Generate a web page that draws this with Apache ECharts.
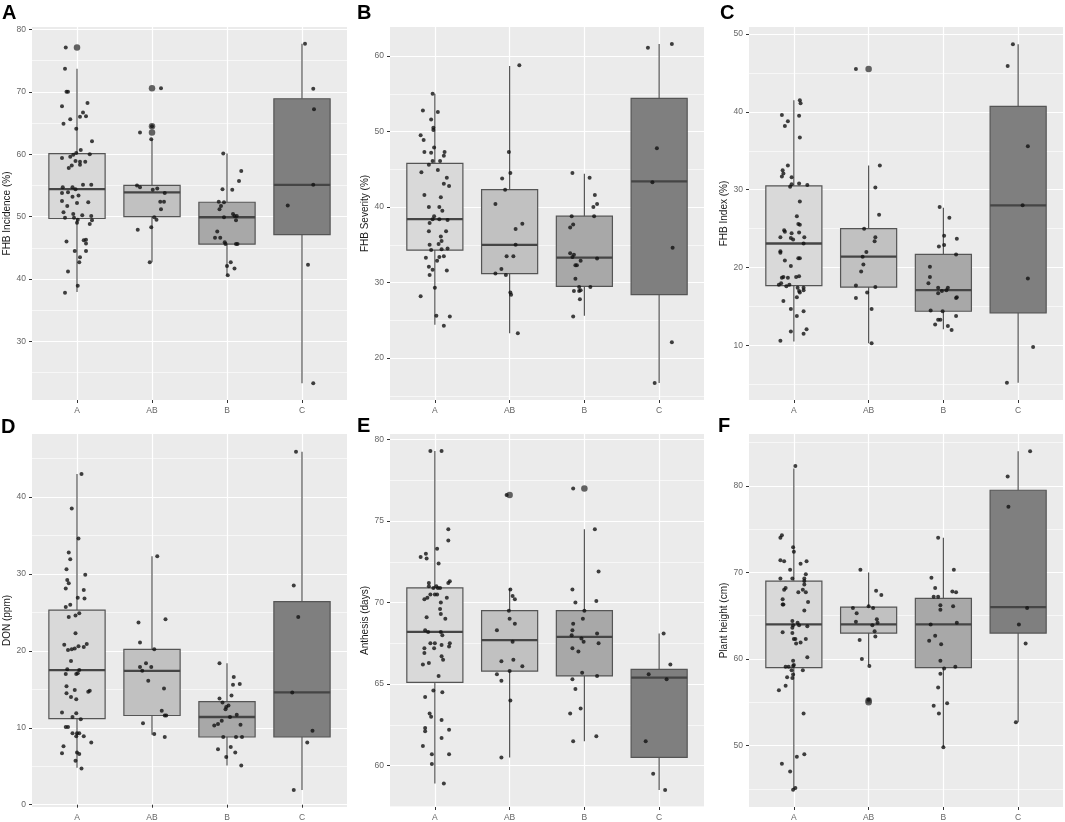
<!DOCTYPE html>
<html>
<head>
<meta charset="utf-8">
<script src="https://cdn.jsdelivr.net/npm/echarts@6/dist/echarts.min.js"></script>
<style>
  html, body { margin: 0; padding: 0; background: #fff; }
  #main { width: 1065px; height: 822px; }
</style>
</head>
<body>
<div id="main"></div>
<script>
// groups on every panel
const cats = ['A', 'AB', 'B', 'C']
const boxFill = ['#d9d9d9', '#c1c1c1', '#a8a8a8', '#7f7f7f']

// box stats per group: [lower whisker, Q1, median, Q3, upper whisker]
// outliers: [group (1-4), value]; points: per group [jitter, value]

// A - FHB incidence
const incBox = [[37.9, 49.7, 54.4, 60.1, 73.7], [42.7, 50.0, 53.9, 55.0, 62.4], [40.5, 45.6, 49.9, 52.3, 60.1], [23.3, 47.1, 55.1, 68.9, 77.7]]
const incOut = [[1, 77.1], [2, 70.6], [2, 64.5], [2, 63.5]]
const incPts = [
  [[-0.15, 77.1], [-0.16, 73.7], [-0.14, 70.0], [-0.12, 70.0], [-0.2, 67.7], [0.14, 68.2], [-0.18, 64.9], [-0.09, 65.6], [-0.01, 64.1], [0.04, 66.0], [0.08, 66.7], [0.12, 66.1], [0.2, 62.1], [0.05, 60.7], [-0.01, 60.2], [-0.05, 59.9], [-0.2, 59.4], [-0.09, 59.6], [-0.02, 58.9], [0.04, 58.8], [0.11, 58.8], [0.17, 60.0], [-0.07, 58.2], [-0.11, 57.8], [0.04, 58.3], [0.08, 55.1], [0.19, 55.1], [-0.19, 54.7], [-0.06, 54.7], [-0.02, 54.4], [-0.2, 53.8], [-0.12, 53.9], [0.02, 53.4], [-0.06, 53.2], [-0.2, 52.5], [0.0, 52.2], [0.15, 52.3], [-0.13, 51.7], [-0.18, 50.7], [-0.05, 50.4], [0.07, 50.2], [-0.16, 49.8], [-0.04, 49.8], [0.01, 49.5], [0.19, 50.1], [0.2, 49.4], [0.17, 48.8], [0.0, 49.0], [-0.14, 46.0], [0.09, 46.2], [0.12, 46.3], [0.12, 45.7], [-0.03, 44.5], [0.12, 44.5], [0.04, 43.5], [0.03, 42.7], [-0.12, 41.2], [0.01, 38.9], [-0.16, 37.8]],
  [[0.12, 70.6], [0.0, 64.5], [-0.16, 63.5], [-0.01, 62.4], [-0.2, 55.0], [-0.16, 54.7], [0.01, 54.3], [0.07, 54.5], [0.17, 53.8], [0.11, 52.4], [0.16, 52.4], [0.12, 51.2], [0.03, 49.9], [0.06, 49.5], [-0.01, 48.3], [-0.19, 47.9], [-0.03, 42.7]],
  [[-0.05, 60.1], [0.19, 57.3], [0.16, 55.7], [-0.06, 54.4], [0.07, 54.3], [-0.11, 52.4], [-0.04, 52.3], [-0.08, 51.7], [-0.1, 51.2], [-0.04, 49.9], [0.08, 50.4], [0.1, 50.1], [0.13, 50.1], [0.12, 49.4], [-0.13, 47.6], [-0.16, 46.6], [-0.09, 46.6], [-0.03, 45.9], [-0.02, 45.6], [0.12, 45.6], [0.14, 45.6], [0.05, 42.7], [0.0, 42.1], [0.1, 41.7], [0.01, 40.6]],
  [[0.04, 77.7], [0.15, 70.5], [0.16, 67.2], [0.15, 55.1], [-0.19, 51.8], [0.08, 42.3], [0.15, 23.3]]
]

// B - FHB severity
const sevBox = [[24.4, 34.3, 38.4, 45.8, 55.0], [23.3, 31.2, 35.0, 42.3, 58.7], [25.6, 29.5, 33.3, 38.8, 44.4], [16.7, 28.4, 43.4, 54.4, 61.6]]
const sevOut = []
const sevPts = [
  [[-0.03, 55.0], [-0.16, 52.8], [0.04, 52.6], [-0.05, 51.6], [-0.02, 50.5], [-0.02, 50.2], [-0.19, 49.5], [-0.15, 48.9], [-0.01, 47.9], [-0.14, 47.3], [-0.05, 47.2], [0.13, 47.3], [0.12, 46.8], [-0.03, 46.1], [0.07, 46.1], [-0.08, 45.6], [-0.18, 44.6], [0.04, 44.9], [0.16, 43.9], [0.12, 43.1], [0.19, 42.8], [-0.14, 41.6], [0.08, 41.3], [-0.08, 40.0], [0.06, 40.0], [0.1, 39.5], [-0.01, 38.8], [-0.03, 38.4], [0.06, 38.4], [0.17, 38.3], [-0.07, 37.9], [-0.08, 36.8], [0.15, 36.8], [0.08, 36.1], [0.09, 35.5], [-0.07, 35.0], [0.05, 35.1], [-0.05, 34.3], [0.09, 34.4], [0.17, 34.5], [-0.12, 33.3], [0.06, 33.4], [0.12, 33.5], [0.03, 32.9], [-0.08, 32.1], [-0.03, 31.7], [0.16, 31.6], [-0.07, 31.0], [0.0, 29.3], [-0.19, 28.2], [0.02, 25.6], [0.2, 25.5], [0.12, 24.3]],
  [[0.13, 58.8], [-0.01, 47.3], [0.01, 44.5], [-0.1, 43.8], [-0.06, 42.3], [-0.19, 40.4], [0.17, 37.8], [0.08, 37.1], [0.08, 35.0], [-0.04, 33.5], [0.05, 33.5], [-0.11, 31.8], [-0.19, 31.2], [-0.05, 31.0], [0.01, 28.7], [0.02, 28.4], [0.11, 23.3]],
  [[-0.16, 44.5], [0.07, 43.9], [0.14, 41.6], [0.17, 40.4], [0.12, 40.0], [-0.17, 38.8], [0.13, 38.8], [-0.15, 37.7], [-0.19, 37.3], [-0.19, 33.9], [-0.14, 33.7], [-0.16, 33.4], [-0.05, 32.9], [-0.12, 32.3], [-0.1, 32.3], [0.17, 33.2], [-0.12, 30.5], [-0.07, 29.4], [0.08, 29.4], [-0.14, 28.9], [-0.07, 28.9], [-0.05, 29.0], [-0.06, 27.8], [-0.15, 25.5]],
  [[-0.15, 61.1], [0.17, 61.6], [-0.03, 47.8], [-0.09, 43.3], [0.18, 34.6], [0.17, 22.1], [-0.06, 16.7]]
]

// C - FHB index
const idxBox = [[10.5, 17.7, 23.1, 30.5, 41.5], [10.3, 17.5, 21.4, 25.0, 33.1], [12.1, 14.4, 17.1, 21.7, 27.7], [5.2, 14.2, 28.0, 40.7, 48.7]]
const idxOut = [[2, 45.5]]
const idxPts = [
  [[0.08, 41.5], [0.09, 41.1], [-0.16, 39.6], [-0.08, 38.8], [-0.12, 38.2], [0.07, 39.5], [0.08, 36.7], [-0.08, 33.1], [-0.15, 32.5], [-0.14, 32.1], [-0.16, 31.7], [-0.03, 31.6], [-0.03, 30.7], [-0.05, 30.4], [0.07, 30.8], [0.18, 30.6], [0.08, 28.5], [0.04, 26.6], [0.06, 25.6], [0.08, 25.5], [0.07, 24.5], [-0.13, 24.8], [-0.12, 24.6], [-0.03, 24.4], [-0.18, 23.9], [0.14, 23.9], [-0.04, 23.8], [-0.01, 23.6], [0.13, 23.1], [-0.18, 22.1], [-0.18, 21.9], [0.08, 21.2], [0.06, 21.2], [-0.12, 20.9], [-0.04, 20.2], [0.07, 18.9], [0.03, 18.8], [-0.08, 18.7], [-0.16, 18.7], [-0.14, 18.8], [-0.17, 18.0], [-0.2, 17.8], [-0.06, 17.8], [-0.1, 17.6], [0.05, 17.4], [0.13, 17.4], [0.13, 17.1], [0.07, 17.0], [0.08, 16.8], [0.04, 16.2], [-0.14, 15.7], [-0.04, 14.7], [0.13, 14.4], [0.04, 13.8], [-0.04, 11.8], [0.17, 12.1], [0.13, 11.5], [-0.18, 10.6]],
  [[-0.17, 45.5], [0.15, 33.1], [0.09, 30.3], [0.14, 26.8], [-0.06, 25.0], [0.09, 23.9], [0.08, 23.4], [-0.03, 22.0], [-0.08, 21.4], [-0.07, 20.4], [-0.1, 19.5], [-0.17, 17.7], [0.09, 17.5], [-0.02, 16.8], [-0.17, 16.1], [0.04, 14.7], [0.04, 10.3]],
  [[-0.05, 27.8], [0.08, 26.4], [0.01, 24.1], [0.01, 22.9], [-0.06, 22.7], [0.18, 23.7], [0.17, 21.7], [-0.18, 20.1], [-0.18, 18.8], [-0.2, 18.0], [-0.07, 17.4], [-0.02, 17.0], [0.04, 17.1], [0.06, 17.4], [-0.07, 16.7], [0.18, 16.2], [0.17, 16.1], [-0.17, 14.5], [-0.01, 14.4], [0.17, 13.8], [-0.07, 13.3], [-0.04, 13.3], [-0.11, 12.7], [0.06, 12.5], [0.11, 12.0]],
  [[-0.07, 48.7], [-0.14, 45.9], [0.13, 35.6], [0.06, 28.0], [0.13, 18.6], [0.2, 9.8], [-0.15, 5.2]]
]

// D - DON
const donBox = [[4.8, 11.2, 17.5, 25.3, 43.0], [9.1, 11.6, 17.4, 20.2, 32.3], [5.1, 8.8, 11.4, 13.4, 18.4], [1.9, 8.8, 14.6, 26.4, 45.9]]
const donOut = []
const donPts = [
  [[0.06, 43.0], [-0.07, 38.5], [0.02, 34.6], [-0.11, 32.8], [-0.09, 31.9], [-0.14, 30.6], [0.11, 29.9], [-0.13, 29.2], [-0.11, 28.8], [-0.15, 28.1], [0.09, 27.9], [0.01, 26.9], [0.1, 26.8], [-0.09, 26.0], [-0.15, 25.7], [0.03, 24.9], [-0.02, 24.6], [-0.11, 24.4], [-0.02, 22.3], [-0.17, 20.8], [0.13, 20.9], [-0.12, 20.1], [-0.07, 20.2], [-0.03, 20.3], [0.02, 20.6], [0.09, 20.5], [-0.08, 18.7], [-0.13, 17.6], [0.03, 17.5], [-0.15, 17.0], [-0.01, 17.0], [0.01, 17.1], [-0.14, 15.4], [-0.03, 14.9], [-0.14, 14.5], [0.15, 14.7], [0.17, 14.8], [-0.08, 14.0], [-0.01, 13.7], [-0.2, 12.0], [-0.01, 11.9], [-0.06, 11.4], [0.05, 11.1], [-0.15, 10.1], [-0.12, 10.1], [-0.06, 9.3], [0.0, 9.3], [0.03, 9.3], [-0.01, 8.9], [0.09, 8.9], [0.19, 8.1], [-0.18, 7.6], [-0.2, 6.7], [0.0, 6.8], [0.03, 6.6], [-0.02, 5.7], [0.06, 4.7]],
  [[0.07, 32.3], [0.18, 24.1], [-0.18, 23.7], [-0.16, 21.1], [0.03, 20.2], [-0.08, 18.4], [-0.16, 17.9], [-0.01, 17.9], [-0.13, 17.4], [-0.05, 16.1], [0.16, 15.1], [0.13, 12.2], [0.17, 11.6], [0.19, 11.6], [-0.12, 10.6], [0.03, 9.2], [0.17, 8.8]],
  [[-0.1, 18.4], [0.09, 16.6], [0.17, 15.7], [0.08, 15.6], [0.06, 14.2], [-0.1, 13.8], [-0.06, 13.3], [0.02, 12.9], [-0.01, 12.7], [-0.02, 12.4], [0.13, 11.7], [0.04, 11.4], [-0.07, 10.9], [-0.12, 10.5], [-0.17, 10.3], [0.18, 10.4], [-0.05, 8.8], [0.12, 8.8], [0.2, 8.8], [-0.12, 7.2], [0.05, 7.5], [0.11, 6.8], [-0.01, 6.2], [0.19, 5.1]],
  [[-0.08, 45.9], [-0.11, 28.5], [-0.05, 24.4], [-0.13, 14.6], [0.14, 9.6], [0.07, 8.1], [-0.11, 1.9]]
]

// E - anthesis
const antBox = [[58.9, 65.1, 68.2, 70.9, 79.3], [60.5, 65.8, 67.7, 69.5, 70.9], [61.5, 65.5, 67.9, 69.5, 74.5], [58.5, 60.5, 65.4, 65.9, 68.1]]
const antOut = [[2, 76.6], [3, 77.0]]
const antPts = [
  [[-0.06, 79.3], [0.09, 79.3], [0.18, 74.5], [0.18, 73.8], [0.03, 73.3], [-0.19, 72.8], [-0.12, 73.0], [-0.11, 72.7], [0.05, 72.4], [0.2, 71.3], [0.18, 71.2], [-0.08, 71.2], [-0.08, 71.0], [0.02, 71.0], [0.04, 70.9], [-0.02, 70.9], [0.07, 70.9], [-0.06, 70.5], [0.0, 70.5], [0.03, 70.5], [-0.1, 70.3], [-0.14, 70.2], [0.16, 70.3], [0.08, 70.0], [0.07, 69.6], [0.08, 69.3], [-0.11, 69.1], [0.14, 69.0], [-0.13, 68.3], [-0.09, 68.2], [0.08, 68.2], [0.1, 68.0], [-0.06, 67.5], [0.0, 67.5], [0.2, 67.5], [0.19, 67.3], [0.09, 67.4], [-0.01, 67.2], [-0.14, 67.2], [-0.14, 66.9], [0.09, 66.7], [0.11, 66.5], [-0.16, 66.2], [-0.08, 66.3], [0.05, 65.5], [-0.02, 64.6], [0.1, 64.5], [-0.13, 64.2], [-0.07, 63.2], [-0.05, 63.0], [0.09, 62.8], [-0.13, 62.3], [-0.13, 62.1], [0.19, 62.2], [0.09, 61.7], [-0.16, 61.2], [-0.04, 60.7], [0.19, 60.7], [-0.04, 60.1], [0.12, 58.9]],
  [[-0.04, 76.6], [0.01, 70.8], [0.04, 70.4], [0.07, 70.2], [-0.01, 69.5], [0.0, 69.0], [0.07, 68.7], [-0.17, 68.3], [0.04, 67.6], [-0.11, 66.4], [0.05, 66.5], [0.17, 66.1], [-0.17, 65.6], [0.0, 65.8], [-0.11, 65.2], [0.01, 64.0], [-0.11, 60.5]],
  [[-0.15, 77.0], [0.14, 74.5], [0.19, 71.9], [-0.16, 70.8], [-0.12, 70.0], [0.16, 70.1], [0.0, 69.5], [-0.02, 69.0], [-0.15, 68.7], [-0.16, 68.3], [-0.17, 68.0], [0.17, 68.1], [-0.04, 67.8], [-0.01, 67.6], [0.19, 67.5], [-0.16, 67.2], [-0.08, 67.0], [-0.03, 65.7], [0.17, 65.5], [-0.16, 65.3], [-0.12, 64.7], [-0.05, 63.5], [-0.19, 63.2], [0.16, 61.8], [-0.15, 61.5]],
  [[0.06, 68.1], [0.15, 66.2], [-0.14, 65.6], [0.1, 65.3], [-0.18, 61.5], [-0.08, 59.5], [0.08, 58.5]]
]

// F - plant height
const hgtBox = [[45.0, 59.0, 64.0, 69.0, 82.0], [59.3, 63.0, 64.0, 66.0, 70.0], [49.8, 59.0, 64.0, 67.0, 74.0], [52.7, 63.0, 66.0, 79.5, 84.0]]
const hgtOut = [[2, 55.0], [2, 55.2]]
const hgtPts = [
  [[0.02, 82.3], [-0.18, 74.0], [-0.16, 74.3], [-0.01, 72.9], [0.0, 72.4], [-0.18, 71.4], [-0.13, 71.3], [0.17, 71.3], [0.09, 71.0], [-0.05, 70.3], [0.16, 69.8], [-0.18, 69.3], [-0.02, 69.3], [0.14, 69.3], [0.14, 69.0], [0.14, 68.6], [-0.11, 68.2], [-0.13, 68.0], [0.12, 68.0], [0.06, 67.7], [0.16, 67.7], [-0.15, 66.9], [0.19, 66.6], [-0.15, 66.3], [-0.14, 66.3], [0.14, 65.6], [-0.02, 64.4], [-0.01, 63.9], [0.05, 64.2], [0.07, 63.9], [0.18, 63.8], [-0.02, 63.6], [-0.15, 63.1], [-0.02, 63.0], [0.0, 62.3], [0.02, 62.3], [0.16, 62.3], [0.09, 61.9], [0.03, 61.8], [0.18, 60.2], [-0.01, 59.8], [-0.11, 59.1], [-0.07, 59.1], [0.0, 59.3], [-0.01, 59.2], [-0.03, 58.7], [0.12, 58.7], [-0.01, 58.2], [-0.09, 57.9], [-0.02, 57.8], [-0.11, 56.9], [-0.2, 56.4], [0.13, 53.7], [0.14, 49.0], [0.04, 48.7], [-0.16, 47.9], [-0.05, 47.0], [0.02, 45.1], [-0.01, 44.9]],
  [[-0.11, 70.3], [0.1, 67.9], [0.17, 67.4], [-0.21, 65.9], [0.0, 66.1], [0.06, 65.9], [-0.16, 65.3], [-0.17, 64.3], [0.11, 64.6], [0.12, 64.2], [0.05, 63.9], [0.08, 63.2], [0.09, 62.6], [-0.12, 62.2], [-0.09, 60.0], [0.01, 59.2], [0.0, 55.3]],
  [[-0.07, 74.0], [-0.16, 69.4], [0.14, 70.3], [-0.11, 68.2], [-0.13, 67.2], [-0.07, 67.2], [0.12, 67.8], [0.17, 67.7], [-0.04, 66.2], [-0.04, 65.7], [0.13, 66.1], [0.18, 64.2], [-0.17, 64.0], [-0.11, 62.7], [-0.19, 62.1], [-0.03, 61.7], [-0.04, 59.8], [0.16, 59.1], [0.01, 58.9], [-0.04, 58.3], [-0.07, 56.7], [-0.13, 54.6], [0.05, 54.9], [-0.06, 53.7], [0.0, 49.8]],
  [[0.16, 84.0], [-0.14, 81.1], [-0.13, 77.6], [0.12, 65.9], [0.01, 64.0], [0.1, 61.8], [-0.03, 52.7]]
]

// y scale limits and tick values
const panels = [
  { tag: 'A', title: 'FHB Incidence (%)', box: incBox, out: incOut, pts: incPts, lim: [20.6, 80.4], major: [30, 40, 50, 60, 70, 80], minor: [25, 35, 45, 55, 65, 75] },
  { tag: 'B', title: 'FHB Severity (%)', box: sevBox, out: sevOut, pts: sevPts, lim: [14.45, 63.85], major: [20, 30, 40, 50, 60], minor: [15, 25, 35, 45, 55] },
  { tag: 'C', title: 'FHB Index (%)', box: idxBox, out: idxOut, pts: idxPts, lim: [3.0, 50.9], major: [10, 20, 30, 40, 50], minor: [5, 15, 25, 35, 45] },
  { tag: 'D', title: 'DON (ppm)', box: donBox, out: donOut, pts: donPts, lim: [-0.3, 48.2], major: [0, 10, 20, 30, 40], minor: [5, 15, 25, 35, 45] },
  { tag: 'E', title: 'Anthesis (days)', box: antBox, out: antOut, pts: antPts, lim: [57.46, 80.34], major: [60, 65, 70, 75, 80], minor: [57.5, 62.5, 67.5, 72.5, 77.5] },
  { tag: 'F', title: 'Plant height (cm)', box: hgtBox, out: hgtOut, pts: hgtPts, lim: [42.9, 86.0], major: [50, 60, 70, 80], minor: [45, 55, 65, 75, 85] }
]

// panel placement
const colLeft = [32, 390, 749]
const colWidth = [315, 314, 314]
const rowTop = [27, 434]
const plotHeight = 373
const tagPos = [[2, 14], [357, 14], [720, 14], [1, 428], [357, 427], [718, 427]]

const font = 'Liberation Sans, Arial, Helvetica, sans-serif'

function renderBox(params, api) {
  const x = api.value(0)
  const lo = api.coord([x, api.value(1)])
  const q1 = api.coord([x, api.value(2)])
  const md = api.coord([x, api.value(3)])
  const q3 = api.coord([x, api.value(4)])
  const hi = api.coord([x, api.value(5)])
  const half = api.size([0.75, 0])[0] / 2
  const edge = { stroke: '#555555', lineWidth: 1.2 }
  return {
    type: 'group',
    children: [
      { type: 'line', shape: { x1: q3[0], y1: q3[1], x2: hi[0], y2: hi[1] }, style: edge },
      { type: 'line', shape: { x1: q1[0], y1: q1[1], x2: lo[0], y2: lo[1] }, style: edge },
      {
        type: 'rect',
        shape: { x: q3[0] - half, y: q3[1], width: half * 2, height: q1[1] - q3[1] },
        style: { fill: boxFill[x - 1], stroke: '#555555', lineWidth: 1.2 }
      },
      { type: 'line', shape: { x1: md[0] - half, y1: md[1], x2: md[0] + half, y2: md[1] }, style: { stroke: '#454545', lineWidth: 2.3 } }
    ]
  }
}

const grid = []
const xAxis = []
const yAxis = []
const series = []
const graphic = []

panels.forEach((p, k) => {
  const col = k % 3
  const row = Math.floor(k / 3)
  grid.push({
    left: colLeft[col], top: rowTop[row], width: colWidth[col], height: plotHeight,
    show: true, backgroundColor: '#ebebeb', borderWidth: 0,
    containLabel: false, outerBoundsMode: 'none'
  })
  xAxis.push({
    type: 'value', gridIndex: k, min: 0.4, max: 4.6,
    axisLine: { show: false },
    axisTick: { show: true, customValues: [1, 2, 3, 4], length: 3, lineStyle: { color: '#333', width: 1 } },
    axisLabel: {
      customValues: [1, 2, 3, 4], margin: 6, fontSize: 8.5, color: '#666', fontFamily: font,
      formatter: v => cats[Math.round(v) - 1]
    },
    splitLine: { show: true, lineStyle: { color: '#ffffff', width: 1.2 } }
  })
  // main y axis: labels, ticks and major grid
  yAxis.push({
    type: 'value', gridIndex: k, min: p.lim[0], max: p.lim[1],
    name: p.title, nameLocation: 'middle', nameGap: 20,
    nameTextStyle: { fontSize: 10, color: '#1a1a1a', fontFamily: font },
    axisLine: { show: false },
    axisTick: { show: true, customValues: p.major, length: 3, lineStyle: { color: '#333', width: 1 } },
    axisLabel: { customValues: p.major, margin: 6, fontSize: 8.5, color: '#666', fontFamily: font },
    splitLine: { show: true, lineStyle: { color: '#ffffff', width: 1.2 } }
  })
  // second y axis only for the minor grid
  yAxis.push({
    type: 'value', gridIndex: k, min: p.lim[0], max: p.lim[1], position: 'left',
    axisLine: { show: false },
    axisTick: { show: false, customValues: p.minor },
    axisLabel: { show: false, customValues: p.minor },
    splitLine: { show: true, lineStyle: { color: '#ffffff', width: 0.6 } }
  })
  const yMain = yAxis.length - 2

  series.push({
    type: 'custom', xAxisIndex: k, yAxisIndex: yMain, silent: true,
    renderItem: renderBox,
    encode: { x: 0, y: [1, 2, 3, 4, 5] },
    data: p.box.map((b, i) => [i + 1, ...b]),
    z: 2
  })
  series.push({
    type: 'scatter', xAxisIndex: k, yAxisIndex: yMain, silent: true,
    symbolSize: 6.5, itemStyle: { color: '#3d3d3d' },
    data: p.out.map(o => [o[0], o[1]]),
    z: 3
  })
  series.push({
    type: 'scatter', xAxisIndex: k, yAxisIndex: yMain, silent: true,
    symbolSize: 4, itemStyle: { color: '#111111' },
    data: p.pts.flatMap((grp, i) => grp.map(([j, v]) => [i + 1 + j, v])),
    z: 4
  })
  graphic.push({
    type: 'text', left: tagPos[k][0], top: tagPos[k][1] - 11,
    style: { text: p.tag, fill: '#000', font: 'bold 20px ' + font }
  })
})

const chart = echarts.init(document.getElementById('main'))
chart.setOption({
  animation: false,
  backgroundColor: '#ffffff',
  grid, xAxis, yAxis, series, graphic
})
window.addEventListener('resize', () => chart.resize())
</script>
</body>
</html>
